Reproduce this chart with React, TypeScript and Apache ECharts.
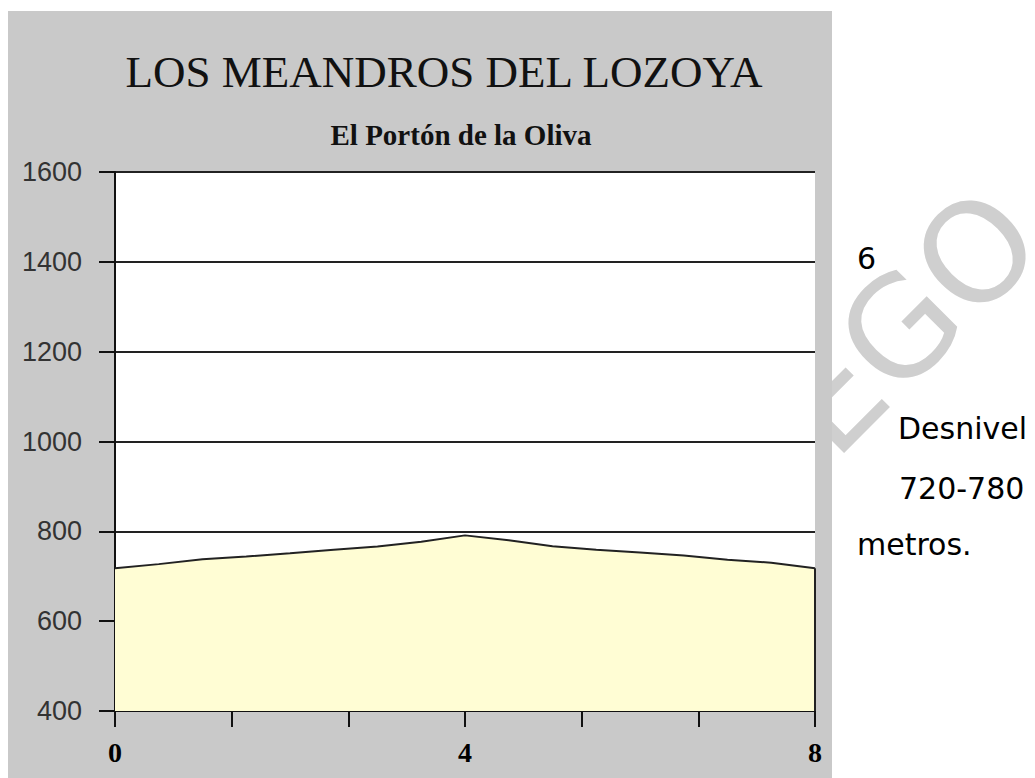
import React, { useEffect, useRef } from "react";
import * as echarts from "echarts";

const km = [0, 0.5, 1, 1.5, 2, 2.5, 3, 3.5, 4, 4.5, 5, 5.5, 6, 6.5, 7, 7.5, 8];
const altitude = [718, 727, 738, 744, 751, 759, 766, 777, 791, 780, 767, 759, 753, 746, 737, 730, 718];
const xLabelsShown = [0, 4, 8];
const titleText = "LOS MEANDROS DEL LOZOYA";
const subtitleText = "El Portón de la Oliva";
const sideTexts = ["6", "Desnivel", "720-780", "metros."];
const watermarkText = "EGO";

export default function App() {
  const ref = useRef<HTMLDivElement>(null);
  useEffect(() => {
    if (!ref.current) return;
    const chart = echarts.init(ref.current, undefined, { renderer: "svg" });
    const yMin = 400;
    const profile = km.map((k, i) => [k, altitude[i]]);
    const lastK = km[km.length - 1];
    const edge = [[lastK, yMin], [lastK, altitude[altitude.length - 1]]];
    const sideFont = "30px 'DejaVu Sans'";
    chart.setOption({
      animation: false,
      graphic: [
        {
          type: "text",
          z: -2,
          x: 908,
          y: 322,
          rotation: Math.PI / 4,
          style: {
            text: watermarkText,
            font: "138px 'DejaVu Sans'",
            fill: "#cfcfcf",
            textAlign: "center",
            textVerticalAlign: "middle",
          },
        },
        {
          type: "rect",
          z: -1,
          shape: { x: 8, y: 11, width: 824, height: 780 },
          style: { fill: "#c9c9c9" },
        },
        {
          type: "text",
          x: 444,
          y: 72,
          style: {
            text: titleText,
            font: "45px 'Liberation Serif'",
            fill: "#111",
            textAlign: "center",
            textVerticalAlign: "middle",
          },
        },
        {
          type: "text",
          x: 461,
          y: 135,
          style: {
            text: subtitleText,
            font: "bold 29px 'Liberation Serif'",
            fill: "#111",
            textAlign: "center",
            textVerticalAlign: "middle",
          },
        },
        { type: "text", x: 857, y: 258, style: { text: sideTexts[0], font: sideFont, fill: "#000", textVerticalAlign: "middle" } },
        { type: "text", x: 898, y: 428, style: { text: sideTexts[1], font: sideFont, fill: "#000", textVerticalAlign: "middle" } },
        { type: "text", x: 899, y: 488, style: { text: sideTexts[2], font: sideFont, fill: "#000", textVerticalAlign: "middle" } },
        { type: "text", x: 857, y: 544, style: { text: sideTexts[3], font: sideFont, fill: "#000", textVerticalAlign: "middle" } },
      ],
      grid: {
        left: 115,
        right: 220,
        top: 172,
        bottom: 67,
        show: true,
        backgroundColor: "#ffffff",
        borderWidth: 0,
      },
      xAxis: {
        type: "value",
        min: 0,
        max: 8,
        interval: 4 / 3,
        axisLine: { lineStyle: { color: "#111", width: 2 } },
        axisTick: { show: true, length: 16, lineStyle: { color: "#111", width: 2 } },
        splitLine: { show: false },
        axisLabel: {
          margin: 27,
          fontFamily: "'Liberation Serif'",
          fontWeight: "bold",
          fontSize: 28,
          color: "#000",
          showMinLabel: true,
          showMaxLabel: true,
          formatter: (v: number) => {
            const r = Math.round(v);
            return Math.abs(v - r) < 1e-6 && xLabelsShown.includes(r) ? String(r) : "";
          },
        },
      },
      yAxis: {
        type: "value",
        min: 400,
        max: 1600,
        interval: 200,
        axisLine: { show: true, lineStyle: { color: "#111", width: 2 } },
        axisTick: { show: true, length: 16, lineStyle: { color: "#111", width: 2 } },
        splitLine: { show: true, lineStyle: { color: "#222", width: 2 } },
        axisLabel: {
          margin: 33,
          fontFamily: "'Liberation Sans'",
          fontSize: 27,
          color: "#333",
          formatter: (v: number) => String(v),
        },
      },
      series: [
        {
          type: "line",
          data: profile,
          symbol: "none",
          lineStyle: { color: "#222", width: 2 },
          areaStyle: { color: "#fffdd4", origin: "start", opacity: 1 },
        },
        {
          type: "line",
          data: edge,
          symbol: "none",
          lineStyle: { color: "#222", width: 2 },
        },
      ],
    });
    return () => chart.dispose();
  }, []);
  return (
    <div
      ref={ref}
      style={{ position: "absolute", left: 0, top: 0, width: 1035, height: 778 }}
    />
  );
}
